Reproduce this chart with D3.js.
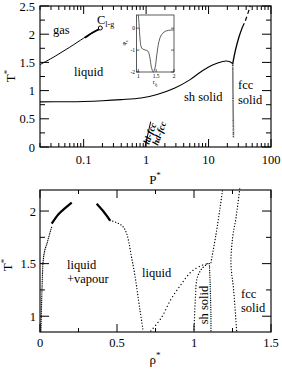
<!DOCTYPE html>
<html>
<head>
<meta charset="utf-8">
<script src="https://cdn.jsdelivr.net/npm/d3@7"></script>
<style>
body { margin: 0; background: #fff; }
text { font-family: "Liberation Serif", "Times New Roman", serif; fill: #000; }
</style>
</head>
<body>
<svg id="chart" width="282" height="369"></svg>
<script>
// ---- top panel: T* against P* (log) ----
var pTicks = [0.1, 1, 10, 100];
var pTickLabels = ["0.1", "1", "10", "100"];
var tTicksTop = [0, 0.5, 1, 1.5, 2, 2.5];
var tTickLabelsTop = ["0", "0.5", "1", "1.5", "2", "2.5"];

// liquid-gas coexistence
var lgP = [0.02, 0.035, 0.06, 0.1, 0.136, 0.183];
var lgT = [1.46, 1.61, 1.77, 1.93, 2.02, 2.10];
var lgDenseP = [0.105, 0.14, 0.178];
var lgDenseT = [1.94, 2.03, 2.09];
var critP = 0.185, critT = 2.11;

// liquid - sh solid melting line
var lsP = [0.02, 0.05, 0.1, 0.2, 0.4, 0.83, 1.5, 2.83, 5, 7.57, 10, 14, 19, 21.5, 24.4];
var lsT = [0.80, 0.803, 0.808, 0.82, 0.84, 0.87, 0.93, 1.04, 1.19, 1.335, 1.42, 1.49, 1.525, 1.515, 1.48];

// liquid - fcc melting line
var lfP = [24.4, 27, 30.7, 35];
var lfT = [1.48, 1.72, 1.95, 2.13];
var lfDashP = [35, 38.3, 46.5];
var lfDashT = [2.13, 2.22, 2.5];

// sh - fcc line
var sfP = [24.4, 24.7, 25.1];
var sfT = [1.48, 0.8, 0.16];

// ld-fcc / hd-fcc line
var ldP = [0.96, 1.185];
var ldT = [0, 0.45];

// inset: phi_s(r_ij)
var insR = [1.0, 1.02, 1.05, 1.08, 1.12, 1.2, 1.27, 1.32, 1.37, 1.42, 1.47, 1.52, 1.58, 1.65, 1.75, 1.85, 2.0];
var insPhi = [0.6, 0.2, -0.5, -0.85, -0.95, -1.0, -1.05, -1.3, -1.8, -2.0, -1.8, -1.2, -0.6, -0.3, -0.15, -0.1, -0.08];

// ---- bottom panel: T* against rho* ----
var rTicks = [0, 0.5, 1, 1.5];
var rTickLabels = ["0", "0.5", "1", "1.5"];
var tTicksBot = [1, 1.5, 2];
var tTickLabelsBot = ["1", "1.5", "2"];

var gasR = [0.006, 0.01, 0.015, 0.02, 0.03, 0.045, 0.06, 0.078];
var gasT = [0.86, 1.1, 1.35, 1.52, 1.62, 1.69, 1.77, 1.86];
var gasDenseR = [0.076, 0.12, 0.165, 0.206];
var gasDenseT = [1.88, 1.97, 2.03, 2.08];
var liqDenseR = [0.368, 0.41, 0.455];
var liqDenseT = [2.07, 2.0, 1.91];
var liqR = [0.455, 0.54, 0.60, 0.65, 0.67];
var liqT = [1.91, 1.85, 1.52, 1.05, 0.86];

var lshR = [0.72, 0.79, 0.85, 0.915, 0.98, 1.045, 1.09];
var lshT = [0.86, 0.99, 1.16, 1.30, 1.42, 1.48, 1.50];
var shLeftR = [1.09, 1.05, 1.02, 1.01, 1.0];
var shLeftT = [1.50, 1.45, 1.36, 1.2, 0.86];
var shRightR = [1.10, 1.105, 1.11, 1.11];
var shRightT = [1.50, 1.3, 1.0, 0.86];
var lfcR = [1.11, 1.143, 1.17, 1.186];
var lfcT = [1.51, 1.78, 2.04, 2.21];
var fccR = [1.297, 1.273, 1.251, 1.24, 1.258, 1.277];
var fccT = [2.21, 1.94, 1.75, 1.5, 1.24, 0.86];

var svg = d3.select("#chart");

function frameAxes(g, x, y, xMajor, xMinor, yMajor, yMinor) {
    var x0 = x.range()[0], x1 = x.range()[1], y0 = y.range()[0], y1 = y.range()[1];
    g.append("rect").attr("x", x0).attr("y", y1).attr("width", x1 - x0).attr("height", y0 - y1)
        .attr("fill", "none").attr("stroke", "#111").attr("stroke-width", 1.2);
    xMinor.forEach(function (d) {
        g.append("line").attr("x1", x(d)).attr("x2", x(d)).attr("y1", y0).attr("y2", y0 - 4).attr("stroke", "#000");
        g.append("line").attr("x1", x(d)).attr("x2", x(d)).attr("y1", y1).attr("y2", y1 + 4).attr("stroke", "#000");
    });
    xMajor.forEach(function (d) {
        g.append("line").attr("x1", x(d)).attr("x2", x(d)).attr("y1", y0).attr("y2", y0 - 8).attr("stroke", "#000");
        g.append("line").attr("x1", x(d)).attr("x2", x(d)).attr("y1", y1).attr("y2", y1 + 8).attr("stroke", "#000");
    });
    yMinor.forEach(function (d) {
        g.append("line").attr("x1", x0).attr("x2", x0 + 5).attr("y1", y(d)).attr("y2", y(d)).attr("stroke", "#000");
        g.append("line").attr("x1", x1).attr("x2", x1 - 5).attr("y1", y(d)).attr("y2", y(d)).attr("stroke", "#000");
    });
    yMajor.forEach(function (d) {
        g.append("line").attr("x1", x0).attr("x2", x0 + 9).attr("y1", y(d)).attr("y2", y(d)).attr("stroke", "#000");
        g.append("line").attr("x1", x1).attr("x2", x1 - 9).attr("y1", y(d)).attr("y2", y(d)).attr("stroke", "#000");
    });
}

function curve(g, x, y, xs, ys, w, dash, cap) {
    var line = d3.line().x(function (d, i) { return x(xs[i]); }).y(function (d, i) { return y(ys[i]); })
        .curve(d3.curveCatmullRom);
    var p = g.append("path").attr("d", line(xs)).attr("fill", "none").attr("stroke", "#000")
        .attr("stroke-width", w);
    if (dash) p.attr("stroke-dasharray", dash).attr("stroke-linecap", cap || "round");
    return p;
}

function yLabel(x, y, str) {
    var t = svg.append("text").attr("transform", "translate(" + x + "," + y + ") rotate(-90)")
        .attr("text-anchor", "middle").attr("font-size", 13);
    t.append("tspan").text(str);
    t.append("tspan").attr("dy", -5).attr("font-size", 9).text("*");
}

// ===== top panel =====
var xP = d3.scaleLog().domain([0.02, 100]).range([40, 271]);
var yT = d3.scaleLinear().domain([0, 2.5]).range([147, 6]);
var topG = svg.append("g");
var pMinor = xP.ticks().filter(function (d) { return pTicks.indexOf(d) < 0; });
frameAxes(topG, xP, yT, pTicks, pMinor, tTicksTop, [0.25, 0.75, 1.25, 1.75, 2.25]);

pTicks.forEach(function (d, i) {
    topG.append("text").attr("x", xP(d)).attr("y", 164).attr("text-anchor", "middle")
        .attr("font-size", 12.5).text(pTickLabels[i]);
});
tTicksTop.forEach(function (d, i) {
    topG.append("text").attr("x", 35).attr("y", yT(d) + 4.5).attr("text-anchor", "end")
        .attr("font-size", 12.5).text(tTickLabelsTop[i]);
});

curve(topG, xP, yT, lgP, lgT, 1, null);
curve(topG, xP, yT, lgDenseP, lgDenseT, 2, null);
topG.append("circle").attr("cx", xP(critP)).attr("cy", yT(critT)).attr("r", 2)
    .attr("fill", "#fff").attr("stroke", "#000").attr("stroke-width", 1);
curve(topG, xP, yT, lsP, lsT, 1.1, null);
curve(topG, xP, yT, lfP, lfT, 1.3, null);
curve(topG, xP, yT, lfDashP, lfDashT, 1.2, "4,3", "butt");
curve(topG, xP, yT, sfP, sfT, 1.6, "1,1", "butt");
curve(topG, xP, yT, ldP, ldT, 1, null);

topG.append("text").attr("x", 53).attr("y", 34).attr("font-size", 12.5).text("gas");
topG.append("text").attr("x", 74).attr("y", 76).attr("font-size", 12.5).text("liquid");
topG.append("text").attr("x", 184).attr("y", 101).attr("font-size", 12.5).text("sh solid");
topG.append("text").attr("x", 238).attr("y", 89).attr("font-size", 12.5).text("fcc");
topG.append("text").attr("x", 238).attr("y", 104).attr("font-size", 12.5).text("solid");
var cl = topG.append("text").attr("x", 97).attr("y", 24).attr("font-size", 12.5);
cl.append("tspan").text("C");
cl.append("tspan").attr("dy", 3).attr("font-size", 8).text("l-g");
topG.append("text").attr("transform", "translate(" + (xP(ldP[0]) + 4) + "," + (yT(0) - 2) + ") rotate(-70)")
    .attr("font-size", 9.5).attr("font-style", "italic").attr("font-weight", "bold").text("ld-fcc");
topG.append("text").attr("transform", "translate(" + (xP(ldP[0]) + 13) + "," + (yT(0) - 1) + ") rotate(-70)")
    .attr("font-size", 9.5).attr("font-style", "italic").attr("font-weight", "bold").text("hd-fcc");

yLabel(15, 76, "T");
var pl = svg.append("text").attr("x", 155).attr("y", 184).attr("text-anchor", "middle").attr("font-size", 13);
pl.append("tspan").text("P");
pl.append("tspan").attr("dy", -6).attr("font-size", 9).text("*");

// inset
var xi = d3.scaleLinear().domain([0.95, 2]).range([136.5, 174]);
var yi = d3.scaleLinear().domain([-2, 0.6]).range([72, 15]);
var ins = svg.append("g");
ins.append("rect").attr("x", 136.5).attr("y", 15).attr("width", 37.5).attr("height", 57)
    .attr("fill", "#fff").attr("stroke", "#333").attr("stroke-width", 0.8);
[1, 1.5, 2].forEach(function (d) {
    ins.append("line").attr("x1", xi(d)).attr("x2", xi(d)).attr("y1", 72).attr("y2", 69).attr("stroke", "#000").attr("stroke-width", 0.6);
    ins.append("text").attr("x", xi(d)).attr("y", 78).attr("text-anchor", "middle").attr("font-size", 5.5).text(d);
});
[-2, -1, 0].forEach(function (d) {
    ins.append("line").attr("x1", 136.5).attr("x2", 139.5).attr("y1", yi(d)).attr("y2", yi(d)).attr("stroke", "#000").attr("stroke-width", 0.6);
    ins.append("line").attr("x1", 174).attr("x2", 171).attr("y1", yi(d)).attr("y2", yi(d)).attr("stroke", "#000").attr("stroke-width", 0.6);
    ins.append("text").attr("x", 135).attr("y", yi(d) + 2).attr("text-anchor", "end").attr("font-size", 5.5).text(d);
});
var insLine = d3.line().x(function (d, i) { return xi(insR[i]); }).y(function (d, i) { return yi(insPhi[i]); })
    .curve(d3.curveCatmullRom);
ins.append("path").attr("d", insLine(insR)).attr("fill", "none").attr("stroke", "#333").attr("stroke-width", 0.8);
var ph = ins.append("text").attr("transform", "translate(126,43) rotate(-90)").attr("text-anchor", "middle").attr("font-size", 6);
ph.append("tspan").text("\u03c6");
ph.append("tspan").attr("dy", 1.5).attr("font-size", 4.5).text("s");
var rij = ins.append("text").attr("x", 155).attr("y", 84).attr("text-anchor", "middle").attr("font-size", 6);
rij.append("tspan").text("r");
rij.append("tspan").attr("dy", 1.5).attr("font-size", 4.5).text("ij");

// ===== bottom panel =====
var xR = d3.scaleLinear().domain([0, 1.5]).range([40, 271]);
var yB = d3.scaleLinear().domain([0.85, 2.2]).range([332, 190]);
var bot = svg.append("g");
frameAxes(bot, xR, yB, rTicks, [0.25, 0.75, 1.25], tTicksBot, [1.25, 1.75]);
rTicks.forEach(function (d, i) {
    bot.append("text").attr("x", xR(d)).attr("y", 347).attr("text-anchor", "middle")
        .attr("font-size", 12.5).text(rTickLabels[i]);
});
tTicksBot.forEach(function (d, i) {
    bot.append("text").attr("x", 36).attr("y", yB(d) + 4.5).attr("text-anchor", "end")
        .attr("font-size", 12.5).text(tTickLabelsBot[i]);
});

var dots = "0.1,2.8";
curve(bot, xR, yB, gasR, gasT, 1.3, "0.1,1.8");
curve(bot, xR, yB, gasDenseR, gasDenseT, 2.2, null);
curve(bot, xR, yB, liqDenseR, liqDenseT, 2.2, null);
curve(bot, xR, yB, liqR, liqT, 1.3, dots);
curve(bot, xR, yB, lshR, lshT, 1.3, "0.1,3.6");
curve(bot, xR, yB, shLeftR, shLeftT, 1.3, dots);
curve(bot, xR, yB, shRightR, shRightT, 1.3, "0.1,2.2");
curve(bot, xR, yB, lfcR, lfcT, 1.3, dots);
curve(bot, xR, yB, fccR, fccT, 1.3, dots);

bot.append("text").attr("x", 67).attr("y", 269).attr("font-size", 12.5).text("liquid");
bot.append("text").attr("x", 67).attr("y", 283).attr("font-size", 12.5).text("+vapour");
bot.append("text").attr("x", 142).attr("y", 277).attr("font-size", 12.5).text("liquid");
bot.append("text").attr("transform", "translate(208,305) rotate(-90)").attr("text-anchor", "middle")
    .attr("font-size", 12.5).text("sh solid");
bot.append("text").attr("x", 241).attr("y", 298).attr("font-size", 12.5).text("fcc");
bot.append("text").attr("x", 241).attr("y", 312).attr("font-size", 12.5).text("solid");

yLabel(12, 265, "T");
var rl = svg.append("text").attr("x", 155).attr("y", 364).attr("text-anchor", "middle").attr("font-size", 13);
rl.append("tspan").text("\u03c1");
rl.append("tspan").attr("dy", -6).attr("font-size", 9).text("*");
</script>
</body>
</html>
